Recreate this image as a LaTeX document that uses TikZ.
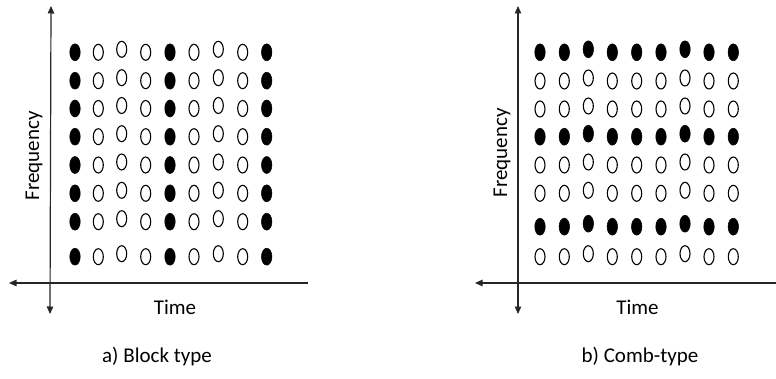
\documentclass[tikz,border=0pt]{standalone}
\usepackage{fontspec}
\setmainfont{Carlito}
\usetikzlibrary{shapes.geometric,arrows.meta}
\begin{document}
\begin{tikzpicture}[x=1pt,y=-1pt,
  axis/.style={line width=1.2pt, draw=black!85},
  tipend/.style={-{Triangle[width=6.5pt,length=7.5pt]}},
  tipboth/.style={{Triangle[width=6.5pt,length=7.5pt]}-{Triangle[width=6.5pt,length=7.5pt]}},
  pilot/.style={ellipse, draw=black, fill=black, line width=0.5pt,
    minimum width=10.5pt, minimum height=17pt, inner sep=0pt},
  data/.style={ellipse, draw=black, fill=white, line width=1.1pt,
    minimum width=10pt, minimum height=16pt, inner sep=0pt},
  lbl/.style={font=\fontsize{21}{24}\selectfont, inner sep=0pt}]
\useasboundingbox (0,0) rectangle (776,379);

% ---------- a) block-type pilot arrangement ----------
\coordinate (LxL) at (9,283);
\coordinate (LxR) at (308,283);
\coordinate (LyT) at (51,6);
\coordinate (LyB) at (50,314);
\draw[axis,tipend] (LxR) -- (LxL);
\draw[axis,tipboth] (LyB) -- (LyT);

% pilot columns (filled)
\foreach \c/\x in {1/75,5/170,9/266.7}
  \foreach \r/\y in {1/52.3,2/80.7,3/108.5,4/136.7,5/165,6/193.3,7/221.7,8/256.7}
    \node[pilot] (A-\r-\c) at (\x,\y) {};
% data columns (open)
\foreach \c/\x/\dy in {2/98.3/0,3/121.7/-3,4/145.7/0,6/194/0,7/218.3/-3,8/242.7/0}
  \foreach \r/\y in {1/52.3,2/80.7,3/108.5,4/136.7,5/165,6/193.3,7/221.7,8/256.7}
    \node[data] (A-\r-\c) at (\x,\y+\dy) {};

\node[lbl, rotate=90] (Afreq) at (34,156) {Frequency};
\node[lbl] (Atime) at (175,307) {Time};
\node[lbl] (Acap) at (157,357) {a) Block type};

% ---------- b) comb-type pilot arrangement ----------
\coordinate (RxL) at (475,283);
\coordinate (RxR) at (776,283);
\coordinate (RyT) at (518,6);
\coordinate (RyB) at (518,314);
\draw[axis,tipend] (RxR) -- (RxL);
\draw[axis,tipboth] (RyB) -- (RyT);

% pilot rows (filled)
\foreach \r/\y in {1/52.3,4/136.7,7/226.7}
  \foreach \c/\x/\dy in {1/540/0,2/564.3/0,3/588.3/-3,4/612.3/0,5/636.7/0,6/661/0,7/685/-3,8/709/0,9/733.3/0}
    \node[pilot] (B-\r-\c) at (\x,\y+\dy) {};
% data rows (open)
\foreach \r/\y in {2/81,3/109,5/165,6/193.3,8/256.7}
  \foreach \c/\x/\dy in {1/540/0,2/564.3/0,3/588.3/-3,4/612.3/0,5/636.7/0,6/661/0,7/685/-3,8/709/0,9/733.3/0}
    \node[data] (B-\r-\c) at (\x,\y+\dy) {};

\node[lbl, rotate=90] (Bfreq) at (502,153) {Frequency};
\node[lbl] (Btime) at (637.5,307) {Time};
\node[lbl] (Bcap) at (640,357) {b) Comb-type};
\end{tikzpicture}
\end{document}
